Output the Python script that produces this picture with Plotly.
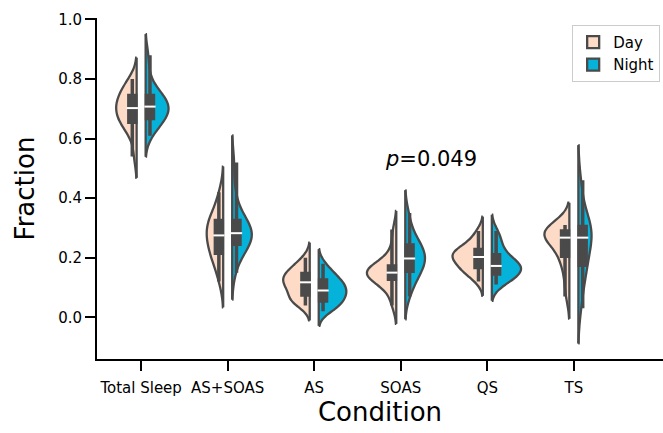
import numpy as np
import plotly.graph_objects as go

categories = ["Total Sleep", "AS+SOAS", "AS", "SOAS", "QS", "TS"]

# hand-estimated samples (fractions) read from the violin shapes
day_total_sleep = [0.54, 0.60, 0.63, 0.645, 0.65, 0.66, 0.67, 0.68, 0.69, 0.70,
                   0.705, 0.71, 0.72, 0.73, 0.74, 0.75, 0.76, 0.77, 0.79, 0.80]
night_total_sleep = [0.61, 0.63, 0.65, 0.66, 0.665, 0.67, 0.68, 0.69, 0.70, 0.705,
                     0.71, 0.715, 0.72, 0.73, 0.74, 0.75, 0.76, 0.78, 0.82, 0.88]
day_as_soas = [0.12, 0.15, 0.18, 0.20, 0.21, 0.22, 0.23, 0.25, 0.26, 0.27,
               0.28, 0.29, 0.30, 0.31, 0.32, 0.33, 0.34, 0.36, 0.39, 0.42]
night_as_soas = [0.15, 0.20, 0.22, 0.23, 0.24, 0.25, 0.26, 0.27, 0.275, 0.28,
                 0.285, 0.29, 0.30, 0.31, 0.32, 0.33, 0.35, 0.38, 0.43, 0.52]
day_as = [0.04, 0.05, 0.055, 0.06, 0.07, 0.08, 0.09, 0.10, 0.11, 0.115,
          0.12, 0.125, 0.13, 0.14, 0.145, 0.15, 0.16, 0.17, 0.18, 0.20]
night_as = [0.02, 0.03, 0.04, 0.045, 0.05, 0.06, 0.07, 0.075, 0.08, 0.085,
            0.095, 0.10, 0.105, 0.11, 0.12, 0.13, 0.135, 0.145, 0.16, 0.18]
day_soas = [0.04, 0.07, 0.10, 0.115, 0.125, 0.13, 0.135, 0.14, 0.145, 0.15,
            0.15, 0.155, 0.16, 0.165, 0.17, 0.175, 0.19, 0.21, 0.25, 0.295]
night_soas = [0.07, 0.10, 0.12, 0.14, 0.15, 0.16, 0.17, 0.18, 0.19, 0.195,
              0.20, 0.21, 0.22, 0.23, 0.24, 0.245, 0.26, 0.28, 0.31, 0.35]
day_qs = [0.12, 0.14, 0.15, 0.16, 0.165, 0.17, 0.18, 0.19, 0.195, 0.20,
          0.205, 0.21, 0.215, 0.22, 0.225, 0.23, 0.24, 0.25, 0.27, 0.29]
night_qs = [0.11, 0.12, 0.13, 0.135, 0.14, 0.15, 0.155, 0.16, 0.165, 0.17,
            0.175, 0.18, 0.185, 0.19, 0.20, 0.22, 0.23, 0.25, 0.27, 0.29]
day_ts = [0.07, 0.11, 0.15, 0.18, 0.20, 0.21, 0.23, 0.25, 0.26, 0.265,
          0.27, 0.275, 0.28, 0.285, 0.29, 0.29, 0.295, 0.30, 0.305, 0.31]
night_ts = [0.03, 0.08, 0.12, 0.15, 0.17, 0.18, 0.20, 0.22, 0.25, 0.265,
            0.27, 0.28, 0.29, 0.295, 0.30, 0.31, 0.33, 0.36, 0.41, 0.46]

day_groups = [day_total_sleep, day_as_soas, day_as, day_soas, day_qs, day_ts]
night_groups = [night_total_sleep, night_as_soas, night_as, night_soas, night_qs, night_ts]

y_ticks = [0.0, 0.2, 0.4, 0.6, 0.8, 1.0]
annotation_text = "<i>p</i>=0.049"

DAY_COLOR = "#fddbc7"
NIGHT_COLOR = "#05b2d9"
EDGE = "#4a4a4a"
FONT = "DejaVu Sans"

HALF_GAP = 0.052      # half the gap between the two halves (data units)
MAX_HALF = 0.35       # widest half-violin (data units)
BOX_W = 0.08          # inner box body width (data units, stroke added on top)
EDGE_W = 2.3


def scott_bw(v):
    v = np.asarray(v, float)
    return float(np.std(v, ddof=1) * len(v) ** (-1 / 5))


def peak_density(v, bw):
    v = np.asarray(v, float)
    grid = np.linspace(v.min() - 2 * bw, v.max() + 2 * bw, 600)
    d = np.exp(-0.5 * ((grid[:, None] - v[None, :]) / bw) ** 2).sum(1)
    return float((d / (len(v) * bw * np.sqrt(2 * np.pi))).max())


bws_day = [scott_bw(v) for v in day_groups]
bws_night = [scott_bw(v) for v in night_groups]
peaks_day = [peak_density(v, b) for v, b in zip(day_groups, bws_day)]
peaks_night = [peak_density(v, b) for v, b in zip(night_groups, bws_night)]
pmax = max(peaks_day + peaks_night)

fig = go.Figure()

for side_name, groups, bws, peaks, color, side, sgn in [
    ("Day", day_groups, bws_day, peaks_day, DAY_COLOR, "negative", -1),
    ("Night", night_groups, bws_night, peaks_night, NIGHT_COLOR, "positive", 1),
]:
    for i, (vals, bw, pk) in enumerate(zip(groups, bws, peaks)):
        half = MAX_HALF * pk / pmax
        fig.add_trace(go.Violin(
            y=vals, x0=i + sgn * HALF_GAP, name=side_name,
            legendgroup=side_name, showlegend=(i == 0),
            side=side, width=2 * half, bandwidth=bw, spanmode="soft",
            fillcolor=color, opacity=1,
            line=dict(color=EDGE, width=EDGE_W),
            points=False, box_visible=False, meanline_visible=False,
            hoverinfo="skip",
        ))

# inner boxes (quartiles + whiskers)
box_centers = {}
for side_name, groups, sgn in [("Day", day_groups, -1), ("Night", night_groups, 1)]:
    centers = [i + sgn * (HALF_GAP + 0.01 + BOX_W / 2) for i in range(len(groups))]
    box_centers[side_name] = centers
    for xc, vals in zip(centers, groups):
        fig.add_trace(go.Box(
            y=vals, x0=xc, width=BOX_W,
            fillcolor=EDGE, line=dict(color=EDGE, width=3.5),
            whiskerwidth=0, boxpoints=False, showlegend=False, hoverinfo="skip",
        ))

# flat (split) edge of each half-violin, spanning the KDE support
for groups, bws, sgn in [(day_groups, bws_day, -1), (night_groups, bws_night, 1)]:
    ex, ey = [], []
    for i, (vals, bw) in enumerate(zip(groups, bws)):
        ex += [i + sgn * HALF_GAP, i + sgn * HALF_GAP, None]
        ey += [min(vals) - 2 * bw, max(vals) + 2 * bw, None]
    fig.add_trace(go.Scatter(x=ex, y=ey, mode="lines", showlegend=False,
                             hoverinfo="skip",
                             line=dict(color=EDGE, width=EDGE_W)))

for side_name, groups in [("Day", day_groups), ("Night", night_groups)]:
    med_y = [float(np.median(v)) for v in groups]
    fig.add_trace(go.Scatter(
        x=box_centers[side_name], y=med_y, mode="markers", showlegend=False,
        hoverinfo="skip",
        marker=dict(symbol="line-ew-open", size=8, color="white",
                    line=dict(color="white", width=2)),
    ))

fig.add_annotation(x=3.35, y=0.53, text=annotation_text, showarrow=False,
                   font=dict(family=FONT, size=21, color="black"))

axis_common = dict(showline=True, linecolor="black", linewidth=2, ticks="outside",
                   ticklen=10, tickwidth=2, tickcolor="black", showgrid=False,
                   zeroline=False, automargin=False,
                   tickfont=dict(family=FONT, size=15, color="black"))

fig.update_layout(
    template="none",
    width=663, height=433,
    margin=dict(l=97, r=0, t=18, b=74),
    paper_bgcolor="white", plot_bgcolor="white",
    violinmode="overlay", boxmode="overlay",
    font=dict(family=FONT, color="black"),
    legend=dict(x=0.995, y=0.98, xanchor="right", yanchor="top",
                bgcolor="white", bordercolor="#cccccc", borderwidth=1,
                tracegroupgap=0,
                font=dict(family=FONT, size=15, color="black")),
    xaxis=dict(range=[-0.51, 6.03], tickmode="array",
               tickvals=list(range(len(categories))), ticktext=categories,
               ticklabelstandoff=4,
               title=dict(text="Condition", font=dict(family=FONT, size=26), standoff=6),
               **axis_common),
    yaxis=dict(range=[-0.14, 1.005], tickmode="array", tickvals=y_ticks,
               tickformat=".1f", ticklabelstandoff=0,
               title=dict(text="Fraction", font=dict(family=FONT, size=26), standoff=16),
               **axis_common),
)

fig.write_html("out.html")
